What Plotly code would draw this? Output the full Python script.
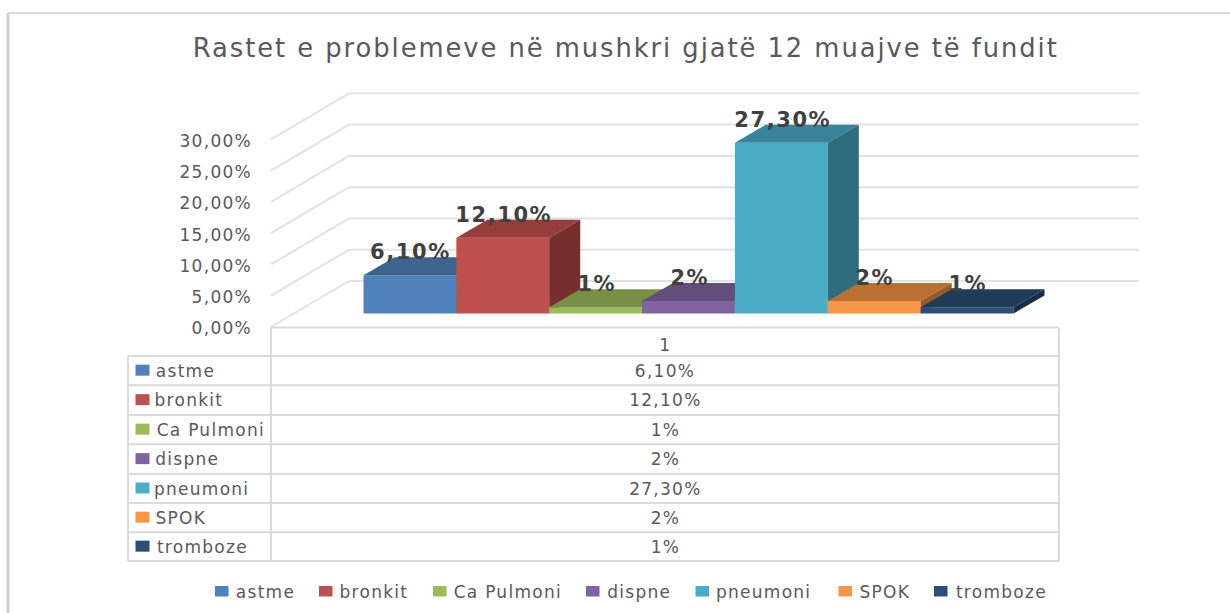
import plotly.graph_objects as go

# ---- data ----
categories = ["astme", "bronkit", "Ca Pulmoni", "dispne", "pneumoni", "SPOK", "tromboze"]
values = [6.1, 12.1, 1, 2, 27.3, 2, 1]
value_labels = ["6,10%", "12,10%", "1%", "2%", "27,30%", "2%", "1%"]
axis_ticks = [0, 5, 10, 15, 20, 25, 30]
axis_tick_labels = ["0,00%", "5,00%", "10,00%", "15,00%", "20,00%", "25,00%", "30,00%"]
table_header = "1"
title_text = "Rastet e problemeve në mushkri gjatë 12 muajve të fundit"

# ---- style ----
front = ["#4F81BD", "#C0504D", "#9BBB59", "#8064A2", "#4BACC6", "#F79646", "#2C4D75"]
top = ["#3D638F", "#953D3A", "#788F45", "#624D7D", "#39839A", "#BA7033", "#203A5A"]
side = ["#2F4D70", "#772F2D", "#5F7236", "#4D3C62", "#2F6C7E", "#975B29", "#192E48"]
GRID = "#E2E2E2"
TABLE = "#DADADA"
TXT = "#595959"
FONT = "DejaVu Sans"
TRACKING = 0.075       # em

W, H = 1230, 613
BAR_W = 92.86          # px per category
BAR_X0 = 363.5         # px, left edge of first bar
BASE_Y = 313.5         # px, bar baseline
SCALE = 6.256          # px per percentage point
DX, DY = 31, 18        # bar depth, px
WALL_X0, WALL_X1, WALL_Y0 = 349, 1139, 281
FLOOR_X, FLOOR_Y = 271, 327
ROW_TEXT_X = [154, 152.5, 155, 153, 152, 153, 154.5]
LEGEND_KEY_X = [215, 319, 433, 586, 695.5, 838.5, 934]
LEGEND_TEXT_X = [234, 337.5, 452, 605, 713.5, 857, 953.5]
LEGEND_Y = 591.5

# data ranges so that data units map onto the layout above
x_range = [-BAR_X0 / BAR_W - 0.5, (W - BAR_X0) / BAR_W - 0.5]
y_range = [(BASE_Y - H) / SCALE, BASE_Y / SCALE]
ddx = DX / BAR_W
ddy = DY / SCALE

fig = go.Figure()
for i, (name, v) in enumerate(zip(categories, values)):
    ya = "y" if i == 0 else f"y{i + 1}"
    fig.add_trace(go.Bar(x=[i], y=[v], width=1, name=name, marker=dict(color=front[i], line_width=0),
                         xaxis="x", yaxis=ya, hoverinfo="name+y", showlegend=False))
    l, r = i - 0.5, i + 0.5
    fig.add_trace(go.Scatter(x=[l, l + ddx, r + ddx, r, l], y=[v, v + ddy, v + ddy, v, v],
                             fill="toself", fillcolor=top[i], mode="none", xaxis="x", yaxis=ya,
                             showlegend=False, hoverinfo="skip"))
    fig.add_trace(go.Scatter(x=[r, r + ddx, r + ddx, r, r], y=[v, v + ddy, ddy, 0, v],
                             fill="toself", fillcolor=side[i], mode="none", xaxis="x", yaxis=ya,
                             showlegend=False, hoverinfo="skip"))

layout_axes = {}
layout_axes["xaxis"] = dict(range=x_range, visible=False, fixedrange=True)
layout_axes["yaxis"] = dict(range=y_range, visible=False, fixedrange=True)
for i in range(1, len(categories)):
    layout_axes[f"yaxis{i + 1}"] = dict(range=y_range, visible=False, overlaying="y", fixedrange=True)

# tick-label axis: same scale, zero aligned with the front edge of the floor
tick_zero = 328.5
k = len(categories) + 1
fig.add_trace(go.Scatter(x=[0], y=[0], mode="none", xaxis="x", yaxis=f"y{k}", showlegend=False, hoverinfo="skip"))
layout_axes[f"yaxis{k}"] = dict(
    range=[(tick_zero - H) / SCALE, tick_zero / SCALE], overlaying="y", anchor="free", position=252 / W,
    side="left", tickmode="array", tickvals=axis_ticks, ticktext=axis_tick_labels, showgrid=False, zeroline=False,
    showline=False, ticks="", tickfont=dict(family=FONT, size=17, color=TXT), fixedrange=True)

shapes = []
px = lambda x: x / W
py = lambda y: 1 - y / H
def line(x0, y0, x1, y1, w=2, c=TABLE):
    shapes.append(dict(type="line", xref="paper", yref="paper", x0=px(x0), y0=py(y0), x1=px(x1), y1=py(y1),
                       line=dict(color=c, width=w), layer="below"))

# chart frame
line(8, 13, W, 13, 2)
line(8, 13, 8, H, 3, "#CFCFCF")
# walls
for t in axis_ticks:
    back = WALL_Y0 - t * SCALE
    fr = FLOOR_Y - t * SCALE
    line(FLOOR_X, fr, WALL_X0, back, 2, GRID)
    line(WALL_X0, back, WALL_X1, back, 2, GRID)

# data table
TL, TM, TR = 128, 271, 1059
rows = [327.5, 356, 385.3, 415, 444.3, 474, 503, 532.3, 561]
line(TM, rows[0], TR, rows[0])
for y in rows[1:]:
    line(TL, y, TR, y)
line(TL, rows[1], TL, rows[-1])
line(TM, rows[0], TM, rows[-1])
line(TR, rows[0], TR, rows[-1])

ann = []
def text(x, y, s, size=17, anchor="center", color=TXT):
    # annotation boxes are measured without tracking and the text grows both ways from their middle
    if anchor == "left":
        x += TRACKING * size * len(s) / 2
    ann.append(dict(xref="paper", yref="paper", x=px(x), y=py(y), text=s, showarrow=False,
                    xanchor=anchor, yanchor="middle", font=dict(family=FONT, size=size, color=color)))

text((TM + TR) / 2, (rows[0] + rows[1]) / 2 + 3, table_header)
for i, name in enumerate(categories):
    cy = (rows[i + 1] + rows[i + 2]) / 2
    shapes.append(dict(type="rect", xref="paper", yref="paper", x0=px(135.5), x1=px(149.5), y0=py(cy - 6), y1=py(cy + 5),
                       fillcolor=front[i], line_width=0))
    text(ROW_TEXT_X[i], cy, name, anchor="left")
    text((TM + TR) / 2, cy, value_labels[i])
    # legend
    shapes.append(dict(type="rect", xref="paper", yref="paper", x0=px(LEGEND_KEY_X[i]), x1=px(LEGEND_KEY_X[i] + 13.5),
                       y0=py(LEGEND_Y - 5.5), y1=py(LEGEND_Y + 5), fillcolor=front[i], line_width=0))
    text(LEGEND_TEXT_X[i], LEGEND_Y, name, anchor="left")

# value labels
for i, (v, s) in enumerate(zip(values, value_labels)):
    ann.append(dict(xref="x", yref="y", x=i, y=v, yshift=23, xshift=1, text=f"<b>{s}</b>", showarrow=False,
                    xanchor="center", yanchor="middle", font=dict(family=FONT, size=21, color="#404040")))
# title
text(626, 48, title_text, size=25.8)

fig.update_layout(
    width=W, height=H, autosize=False,
    margin=dict(l=0, r=0, t=0, b=0),
    paper_bgcolor="white", plot_bgcolor="rgba(0,0,0,0)",
    barmode="overlay", showlegend=False,
    shapes=shapes, annotations=ann,
    **layout_axes,
)
# the reference's text is stretched sideways: page margin off, slight tracking on all chart text
post = ("document.body.style.margin='0';document.body.style.overflow='hidden';"
        "var s=document.createElement('style');"
        f"s.textContent='.main-svg text{{letter-spacing:{TRACKING}em}}';document.head.appendChild(s);")
fig.write_html("out.html", config={"displayModeBar": False}, post_script=post)
